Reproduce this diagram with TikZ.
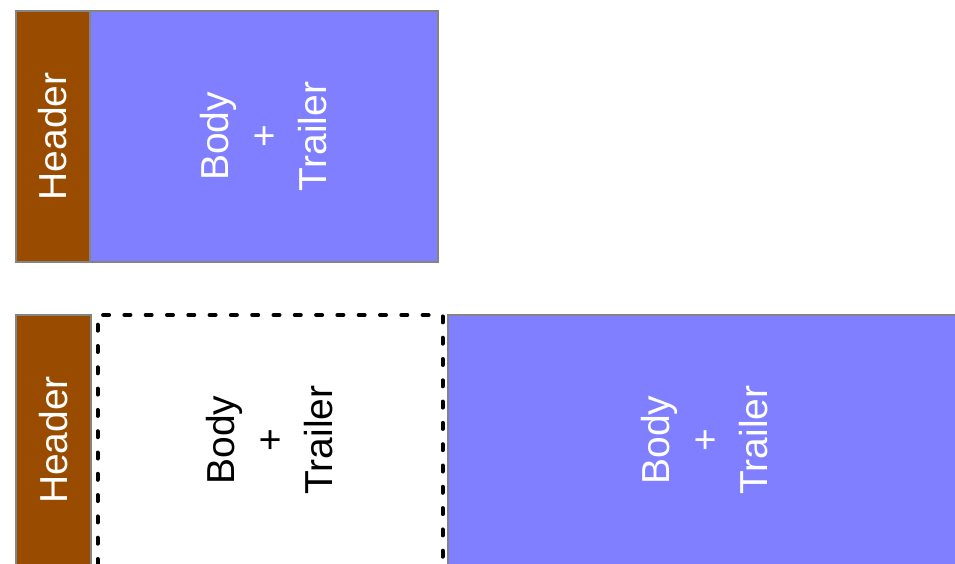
\documentclass[tikz,border=0pt]{standalone}
\usepackage{fontspec}
\setmainfont{Liberation Sans}
\definecolor{hdrbrown}{HTML}{994C00}
\definecolor{bodyblue}{HTML}{7F7FFF}
\definecolor{edgegray}{HTML}{848484}
\tikzset{
  x=1pt, y=1pt,
  box/.style={rectangle, rotate=90, draw=edgegray, line width=2pt, inner sep=0pt, outer sep=0pt,
    align=center, font=\fontsize{39}{49}\selectfont},
  hdr/.style={box, fill=hdrbrown, text=white},
  blu/.style={box, fill=bodyblue, text=white},
  dotbox/.style={rectangle, rotate=90, draw=none, inner sep=0pt, outer sep=0pt,
    align=center, text=black, font=\fontsize{39}{49}\selectfont},
  dotline/.style={draw=black, line width=4pt, line cap=round, dash pattern=on 6pt off 15.3pt}
}
\begin{document}
\begin{tikzpicture}
\useasboundingbox (0,0) rectangle (955,-564);
\clip (0,0) rectangle (955,-564);
% top row
\node[hdr, minimum width=251, minimum height=74] (h1) at (53,-136.5) {Header};
\node[blu, minimum width=251, minimum height=348] (b1) at (264,-136.5) {Body\\+\\Trailer};
% bottom row
\node[hdr, minimum width=250, minimum height=75] (h2) at (53.5,-440) {Header};
\node[dotbox, minimum width=250, minimum height=345] (d2) at (270,-440) {Body\\+\\Trailer};
\node[blu, minimum width=250, minimum height=514] (b2) at (705,-440) {Body\\+\\Trailer};
\draw[dotline] (d2.north west) -- (d2.north east) -- (d2.south east) -- (d2.south west);
\end{tikzpicture}
\end{document}
